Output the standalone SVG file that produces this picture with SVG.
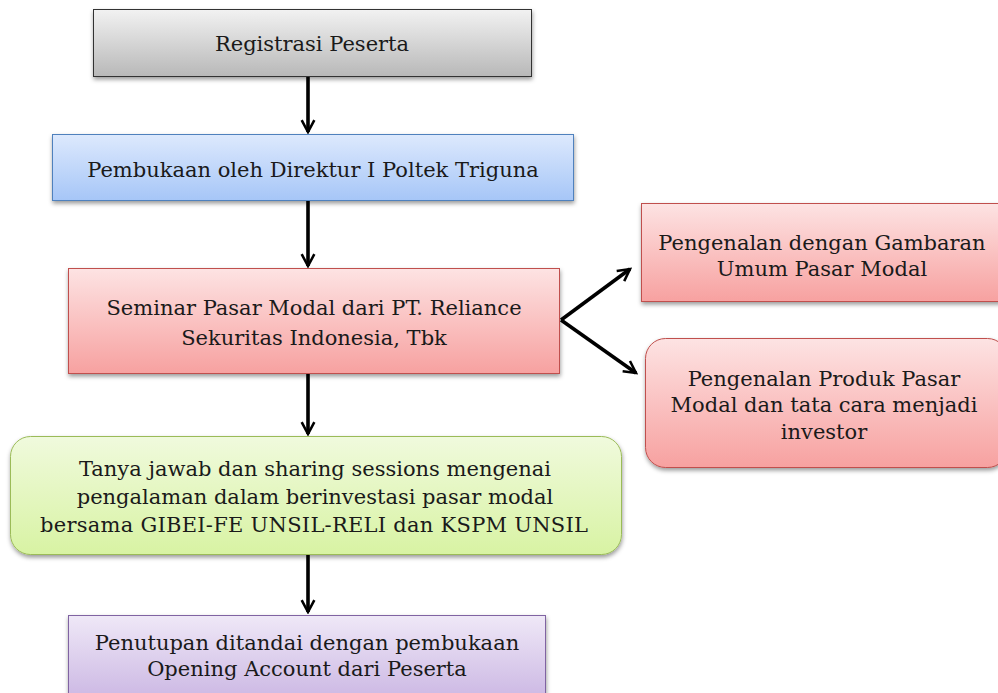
<svg xmlns="http://www.w3.org/2000/svg" width="998" height="693" viewBox="0 0 998 693">
<defs>
<linearGradient id="gGray" x1="0" y1="0" x2="0" y2="1"><stop offset="0" stop-color="#f2f2f2"/><stop offset="1" stop-color="#b8b8b8"/></linearGradient>
<linearGradient id="gBlue" x1="0" y1="0" x2="0" y2="1"><stop offset="0" stop-color="#dde9fd"/><stop offset="1" stop-color="#a6c6f7"/></linearGradient>
<linearGradient id="gRed" x1="0" y1="0" x2="0" y2="1"><stop offset="0" stop-color="#fde3e3"/><stop offset="1" stop-color="#f7a1a0"/></linearGradient>
<linearGradient id="gGreen" x1="0" y1="0" x2="0" y2="1"><stop offset="0" stop-color="#f0fadd"/><stop offset="1" stop-color="#d8f3a3"/></linearGradient>
<linearGradient id="gPurple" x1="0" y1="0" x2="0" y2="1"><stop offset="0" stop-color="#efe8f7"/><stop offset="1" stop-color="#c9b4e2"/></linearGradient>
<filter id="sh" x="-10%" y="-20%" width="120%" height="150%"><feDropShadow dx="0.5" dy="2.5" stdDeviation="2" flood-color="#000" flood-opacity="0.4"/></filter>
<marker id="ah" viewBox="0 0 10 10" refX="8.5" refY="5" markerWidth="4.4" markerHeight="4.4" orient="auto" markerUnits="strokeWidth"><path d="M1,1 L8.5,5 L1,9" fill="none" stroke="#000" stroke-width="1.6" stroke-linejoin="miter"/></marker>
</defs>
<style>
text{font-family:"DejaVu Serif","Liberation Serif",serif;font-size:21px;fill:#1a1a1a;text-anchor:middle}
.c{stroke:#000;stroke-width:3.6;fill:none;marker-end:url(#ah)}
</style>
<rect width="998" height="693" fill="#fff"/>
<g id="connectors">
<line class="c" x1="308" y1="77" x2="308" y2="132"/>
<line class="c" x1="308" y1="201" x2="308" y2="266"/>
<line class="c" x1="308" y1="374" x2="308" y2="434"/>
<line class="c" x1="308" y1="555" x2="308" y2="612"/>
<line class="c" x1="561" y1="320" x2="630" y2="269"/>
<line class="c" x1="561" y1="320" x2="636" y2="373"/>
</g>
<g id="n1"><rect x="93.5" y="9.5" width="438" height="67" fill="url(#gGray)" stroke="#333" stroke-width="1" filter="url(#sh)"/>
<text x="312" y="51">Registrasi Peserta</text></g>
<g id="n2"><rect x="52.5" y="134.5" width="521" height="66" fill="url(#gBlue)" stroke="#4f81bd" stroke-width="1" filter="url(#sh)"/>
<text x="313" y="177">Pembukaan oleh Direktur I Poltek Triguna</text></g>
<g id="n3"><rect x="68.5" y="268.5" width="491" height="105" fill="url(#gRed)" stroke="#c0504d" stroke-width="1" filter="url(#sh)"/>
<text x="314" y="315">Seminar Pasar Modal dari PT. Reliance</text>
<text x="314" y="345">Sekuritas Indonesia, Tbk</text></g>
<g id="n4"><rect x="641.5" y="203.5" width="360" height="98" fill="url(#gRed)" stroke="#c0504d" stroke-width="1" filter="url(#sh)"/>
<text x="822" y="250">Pengenalan dengan Gambaran</text>
<text x="822" y="276">Umum Pasar Modal</text></g>
<g id="n5"><rect x="645.5" y="338.5" width="362" height="129" rx="20" fill="url(#gRed)" stroke="#c0504d" stroke-width="1" filter="url(#sh)"/>
<text x="824" y="386">Pengenalan Produk Pasar</text>
<text x="824" y="412">Modal dan tata cara menjadi</text>
<text x="824" y="439">investor</text></g>
<g id="n6"><rect x="10.5" y="436.5" width="611" height="118" rx="20" fill="url(#gGreen)" stroke="#9bbb59" stroke-width="1" filter="url(#sh)"/>
<text x="315" y="476">Tanya jawab dan sharing sessions mengenai</text>
<text x="315" y="504">pengalaman dalam berinvestasi pasar modal</text>
<text x="314" y="532" textLength="548">bersama GIBEI-FE UNSIL-RELI dan KSPM UNSIL</text></g>
<g id="n7"><rect x="68.5" y="615.5" width="477" height="90" fill="url(#gPurple)" stroke="#8064a2" stroke-width="1" filter="url(#sh)"/>
<text x="307" y="650">Penutupan ditandai dengan pembukaan</text>
<text x="307" y="676">Opening Account dari Peserta</text></g>
</svg>
